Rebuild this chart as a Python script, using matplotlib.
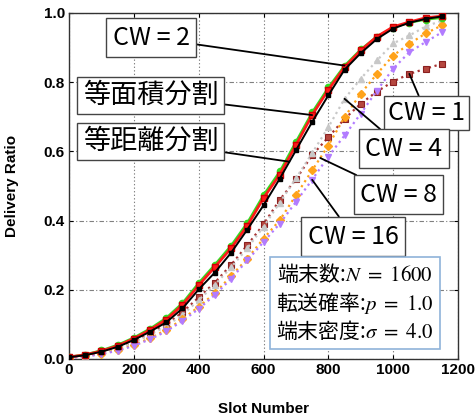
import numpy as np
import matplotlib
matplotlib.use("Agg")
import matplotlib.pyplot as plt
from matplotlib import font_manager as fm

# ---------------- data ----------------
slots = np.arange(0, 1200, 50)
area_split = [0.006, 0.012, 0.023, 0.038, 0.059, 0.084, 0.114, 0.156, 0.213, 0.266, 0.320, 0.385,
              0.465, 0.533, 0.618, 0.705, 0.778, 0.843, 0.892, 0.932, 0.960, 0.974, 0.986, 0.991]
dist_split = [0.005, 0.011, 0.021, 0.035, 0.055, 0.079, 0.106, 0.146, 0.201, 0.250, 0.307, 0.374,
              0.444, 0.521, 0.603, 0.685, 0.762, 0.836, 0.884, 0.925, 0.955, 0.972, 0.983, 0.990]
cw1 = [0.005, 0.010, 0.020, 0.033, 0.049, 0.075, 0.100, 0.135, 0.178, 0.221, 0.272, 0.329,
       0.389, 0.460, 0.519, 0.589, 0.641, 0.694, 0.738, 0.773, 0.802, 0.824, 0.839, 0.853]
cw2 = [0.006, 0.013, 0.025, 0.041, 0.062, 0.088, 0.119, 0.162, 0.220, 0.273, 0.328, 0.394,
       0.474, 0.542, 0.628, 0.713, 0.785, 0.848, 0.895, 0.932, 0.958, 0.972, 0.981, 0.986]
cw4 = [0.005, 0.010, 0.019, 0.031, 0.047, 0.070, 0.095, 0.128, 0.170, 0.215, 0.265, 0.320,
       0.382, 0.452, 0.522, 0.595, 0.670, 0.752, 0.810, 0.863, 0.912, 0.935, 0.961, 0.978]
cw8 = [0.003, 0.008, 0.015, 0.026, 0.040, 0.060, 0.084, 0.115, 0.151, 0.190, 0.240, 0.290,
       0.348, 0.401, 0.473, 0.545, 0.617, 0.699, 0.767, 0.824, 0.877, 0.911, 0.941, 0.964]
cw16 = [0.003, 0.007, 0.014, 0.024, 0.038, 0.057, 0.080, 0.110, 0.145, 0.185, 0.232, 0.285,
        0.338, 0.391, 0.454, 0.518, 0.585, 0.646, 0.709, 0.776, 0.839, 0.887, 0.916, 0.944]

xticks = [0, 200, 400, 600, 800, 1000, 1200]
yticks = [0.0, 0.2, 0.4, 0.6, 0.8, 1.0]
xlabel = "Slot Number"
ylabel = "Delivery Ratio"
info_lines = [r"端末数:$N\ =\ 1600$", r"転送確率:$p\ =\ 1.0$", r"端末密度:$\sigma\ =\ 4.0$"]

# ---------------- fonts ----------------
names = {f.name for f in fm.fontManager.ttflist}
tick_font = "Liberation Sans Narrow" if "Liberation Sans Narrow" in names else "Liberation Sans"
jp = ["Noto Sans CJK JP", "DejaVu Sans"]
plt.rcParams["mathtext.fontset"] = "stix"

fig = plt.figure(figsize=(4.75, 4.18), dpi=100)
ax = fig.add_axes([69/475, 59/418, 389/475, 346/418])

# dotted CW curves
ax.plot(slots, cw1, linestyle=":", color="#a83232", lw=1.6, marker="s", ms=4.5,
        mfc="#b5473f", mec="#8a2020", mew=0.8, zorder=3)
ax.plot(slots, cw4, linestyle=":", color="#c8c8c8", lw=1.6, marker="^", ms=5,
        mfc="#c8c8c8", mec="#c8c8c8", zorder=3)
ax.plot(slots, cw8, linestyle=":", color="#ffa31a", lw=1.6, marker="D", ms=3.8,
        mfc="#ffa31a", mec="#ffa31a", zorder=3)
ax.plot(slots, cw16, linestyle=":", color="#b27cff", lw=1.6, marker="v", ms=5,
        mfc="#b27cff", mec="#b27cff", zorder=3)
# solid curves
ax.plot(slots, cw2, linestyle="-", color="#33dd22", lw=1.6, marker="o", ms=4.5,
        mfc="#33dd22", mec="#33dd22", zorder=4)
ax.plot(slots, area_split, linestyle="-", color="#ff1a1a", lw=2.0, marker="s", ms=4.5,
        mfc="#ff1a1a", mec="#d00000", zorder=5)
ax.plot(slots, dist_split, linestyle="-", color="black", lw=1.4, marker="s", ms=3,
        zorder=6)

ax.set_xlim(0, 1200)
ax.set_ylim(0, 1.0)
ax.set_xticks(xticks)
ax.set_yticks(yticks)
ax.set_xticklabels([str(v) for v in xticks])
ax.set_yticklabels([f"{v:.1f}" for v in yticks])
ax.tick_params(direction="in", length=3, width=0.8, top=True, right=True, pad=3)
for lab in ax.get_xticklabels() + ax.get_yticklabels():
    lab.set_fontfamily(tick_font)
    lab.set_fontsize(11)
    lab.set_fontweight("bold")
ax.xaxis.grid(True, linestyle=(0, (1.2, 2.0)), color="#808080", lw=0.8)
ax.yaxis.grid(True, linestyle=(0, (4, 2, 1, 2)), color="#808080", lw=0.8)
ax.set_axisbelow(True)
for sp in ax.spines.values():
    sp.set_color("#333333")
    sp.set_linewidth(1.0)

ax.set_xlabel(xlabel, fontfamily=tick_font, fontsize=11, fontweight="bold", labelpad=18)
ax.set_ylabel(ylabel, fontfamily=tick_font, fontsize=11, fontweight="bold", labelpad=18)

# ---------------- annotations ----------------
arrow = dict(arrowstyle="-", color="black", lw=1.3, shrinkA=0, shrinkB=0)

def ann(text, xy, xytext, size, pad=0.26):
    box = dict(boxstyle=f"square,pad={pad}", fc="white", ec="#444444", lw=1.0)
    ax.annotate(text, xy=xy, xycoords="data", xytext=xytext, textcoords="axes fraction",
                ha="center", va="center", fontsize=size, family=jp, bbox=box,
                arrowprops=arrow, zorder=10, annotation_clip=False)

ann("CW = 2", (slots[17], cw2[17]), (0.211, 0.928), 18)
ann("等面積分割", (slots[15], area_split[15]), (0.2095, 0.7616), 19.5, 0.2)
ann("等距離分割", (680, np.interp(680, slots, dist_split)), (0.2095, 0.6286), 19.5, 0.2)
ann("CW = 1", (slots[21], cw1[21]), (0.918, 0.711), 18, 0.16)
ann("CW = 4", (slots[17], cw4[17]), (0.86, 0.607), 18)
ann("CW = 8", (775, np.interp(775, slots, cw8)), (0.847, 0.474), 18)
ann("CW = 16", (slots[15], cw16[15]), (0.731, 0.354), 18)

ax.text(0.735, 0.162, "\n".join(info_lines), transform=ax.transAxes, ha="center",
        va="center", fontsize=15, family=jp, linespacing=1.2, zorder=10,
        bbox=dict(boxstyle="square,pad=0.28", fc="white", ec="#8fb3d9", lw=1.2))

fig.savefig("out.png", dpi=100)
